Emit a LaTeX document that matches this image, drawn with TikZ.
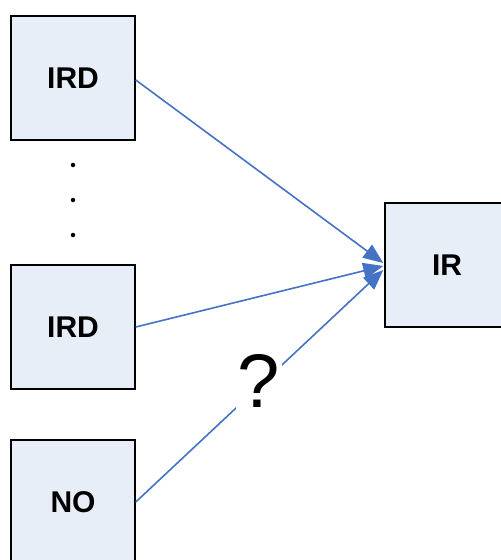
\documentclass[tikz,border=0pt]{standalone}
\usepackage{fontspec}
\setmainfont{Liberation Sans}
\usetikzlibrary{arrows.meta,calc}
\definecolor{boxfill}{HTML}{E8EEF8}
\definecolor{linkblue}{HTML}{4472C4}
\tikzset{
  unit/.style={draw=black, line width=1.5pt, fill=boxfill, minimum width=124pt,
    minimum height=124pt, inner sep=0pt, font=\fontsize{30}{34}\selectfont\bfseries},
  link/.style={draw=linkblue, line width=1.6pt,
    -{Triangle[length=20pt,width=16pt]}},
  dot/.style={circle, fill=black, inner sep=0pt, minimum size=4.5pt}
}
\begin{document}
\begin{tikzpicture}[x=1pt,y=-1pt]
  \clip (0,0) rectangle (501,560);
  \node[unit] (ird1) at (73,78) {IRD};
  \node[unit] (ird2) at (73,327) {IRD};
  \node[unit] (no)   at (73,502) {NO};
  \node[unit] (ir)   at (447,265) {IR};
  \node[dot] (d1) at (73,165) {};
  \node[dot] (d2) at (73,200) {};
  \node[dot] (d3) at (73,235) {};
  \draw[link] ($(ird1.east)+(0,2)$) -- ($(ir.west)+(-1,-2)$);
  \draw[link] (ird2.east) -- ($(ir.west)+(-1,1)$);
  \draw[link] (no.east) -- ($(ir.west)+(-1,5)$);
  \node[fill=white, inner sep=2pt, font=\fontsize{76}{82}\selectfont] (q) at (259,381) {?};
\end{tikzpicture}
\end{document}
